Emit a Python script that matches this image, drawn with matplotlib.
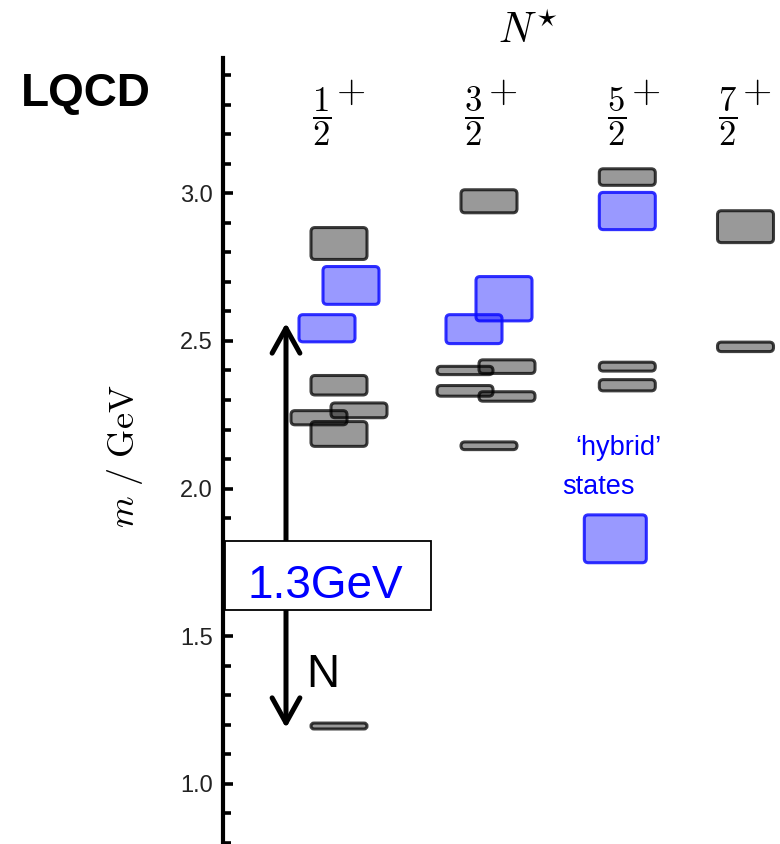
import matplotlib
matplotlib.use("Agg")
import matplotlib.pyplot as plt
from matplotlib.patches import FancyBboxPatch, Rectangle

plt.rcParams['mathtext.fontset'] = 'cm'
plt.rcParams['font.family'] = ['Liberation Sans', 'DejaVu Sans']

# ---------------- data ----------------
spin_labels = [r'$\dfrac{1}{2}$', r'$\dfrac{3}{2}$', r'$\dfrac{5}{2}$', r'$\dfrac{7}{2}$']

# masses (GeV), half-widths (GeV), hybrid flag per J column
mass_12 = [2.83, 2.688, 2.543, 2.35, 2.24, 2.265, 2.185, 1.196]
err_12 = [0.054, 0.064, 0.046, 0.033, 0.024, 0.025, 0.042, 0.010]
hyb_12 = [0, 1, 1, 0, 0, 0, 0, 0]

mass_32 = [2.973, 2.643, 2.54, 2.413, 2.40, 2.331, 2.312, 2.145]
err_32 = [0.039, 0.075, 0.049, 0.023, 0.014, 0.018, 0.016, 0.013]
hyb_32 = [0, 1, 1, 0, 0, 0, 0, 0]

mass_52 = [3.055, 2.94, 2.413, 2.35, 1.83]
err_52 = [0.028, 0.063, 0.015, 0.019, 0.081]
hyb_52 = [0, 1, 0, 0, 1]

mass_72 = [2.887, 2.48]
err_72 = [0.054, 0.016]
hyb_72 = [0, 0]

yticks_major = [1.0, 1.5, 2.0, 2.5, 3.0]

# ---------------- layout (pixels) ----------------
W, H = 780, 844
PX_PER_GEV = 295.3
axis_x = 222.7
col_x = [339 - axis_x, 489 - axis_x, 627.3 - axis_x, 745.5 - axis_x]
shift_12 = [0, 12, -12, 0, -20, 20, 0, 0]
shift_32 = [0, 15, -15, 18, -24, -24, 18, 0]
shift_52 = [0, 0, 0, 0, -12]
shift_72 = [0, 0]
box_w = 56

ytop = 3.0 + (193.3 - 58) / PX_PER_GEV
ybot = 3.0 - (H - 193.3) / PX_PER_GEV

fig = plt.figure(figsize=(W / 100, H / 100), dpi=100)
ax = fig.add_axes([axis_x / W, 0, (W - axis_x) / W, (H - 58) / H])
ax.set_xlim(0, W - axis_x)
ax.set_ylim(ybot, ytop)


def m2y(ypix):
    return 3.0 - (ypix - 193.3) / PX_PER_GEV


columns = [(mass_12, err_12, hyb_12, shift_12),
           (mass_32, err_32, hyb_32, shift_32),
           (mass_52, err_52, hyb_52, shift_52),
           (mass_72, err_72, hyb_72, shift_72)]

for ci, (ms, es, hs, ss) in enumerate(columns):
    for m, e, h, s in zip(ms, es, hs, ss):
        w = box_w + (6 if (h and m < 2.0) else 0)
        if h:
            fc, ec = (0, 0, 1, 0.4), (0.05, 0.05, 1, 0.85)
        else:
            fc, ec = (0, 0, 0, 0.4), (0, 0, 0, 0.75)
        rs = min(4, e * PX_PER_GEV)
        p = FancyBboxPatch((col_x[ci] + s - w / 2, m - e), w, 2 * e,
                           boxstyle=f'round,pad=0,rounding_size={rs}',
                           mutation_aspect=1 / PX_PER_GEV,
                           facecolor=fc, edgecolor=ec, linewidth=2.2, zorder=3)
        ax.add_patch(p)

# spines / ticks
for sp in ['top', 'right', 'bottom']:
    ax.spines[sp].set_visible(False)
ax.spines['left'].set_linewidth(3.0)
ax.set_xticks([])
ax.set_yticks(yticks_major)
ax.set_yticklabels([f'{v:.1f}' for v in yticks_major])
minor = [round(0.8 + 0.1 * i, 1) for i in range(27)]
ax.set_yticks([v for v in minor if v not in yticks_major], minor=True)
ax.tick_params(axis='y', which='major', direction='in', length=7, width=2.6,
               labelsize=17, labelcolor='#222222', pad=7)
ax.tick_params(axis='y', which='minor', direction='in', length=5.5, width=2.6)

# arrow
ax.annotate('', xy=(286 - axis_x, m2y(323)), xytext=(286 - axis_x, m2y(728)),
            arrowprops=dict(arrowstyle='<->,head_length=0.9,head_width=0.5',
                            lw=3.6, color='black', mutation_scale=20,
                            shrinkA=0, shrinkB=0), zorder=4)

# 1.3GeV box
ax.add_patch(Rectangle((225.3 - axis_x, m2y(610)), 430.7 - 225.3, m2y(541) - m2y(610),
                       facecolor='white', edgecolor='black', linewidth=1.3, zorder=6,
                       clip_on=False))
ax.text(325.3 - axis_x, m2y(598), '1.3GeV', color='#0000ff', fontsize=33,
        ha='center', va='baseline', zorder=7)
ax.text(323 - axis_x, m2y(686.7), 'N', color='black', fontsize=33,
        ha='center', va='baseline', zorder=7)

ax.text(575 - axis_x, m2y(455), '\u2018hybrid\u2019', color='#0000ff', fontsize=19.5,
        ha='left', va='baseline')
ax.text(561.7 - axis_x, m2y(494), 'states', color='#0000ff', fontsize=19.5,
        ha='left', va='baseline')

# column labels
frac_x = [321.7, 473.3, 616.7, 728]
for lab, fx in zip(spin_labels, frac_x):
    fig.text(fx / W, 1 - 116.5 / H, lab, fontsize=25, ha='center', va='center')
    fig.text((fx + 29) / W, 1 - 92 / H, r'$+$', fontsize=27, ha='center', va='center')

fig.text(528 / W, 1 - 43 / H, r'$N^{\star}$', fontsize=30, ha='center', va='baseline')
fig.text(20.7 / W, 1 - 106 / H, 'LQCD', fontsize=33, fontweight='bold',
         ha='left', va='baseline')
fig.text(125 / W, 1 - 456 / H, r'$m\ /\ \mathrm{GeV}$', fontsize=26,
         rotation=90, ha='center', va='center')

fig.savefig('out.png', dpi=100)
